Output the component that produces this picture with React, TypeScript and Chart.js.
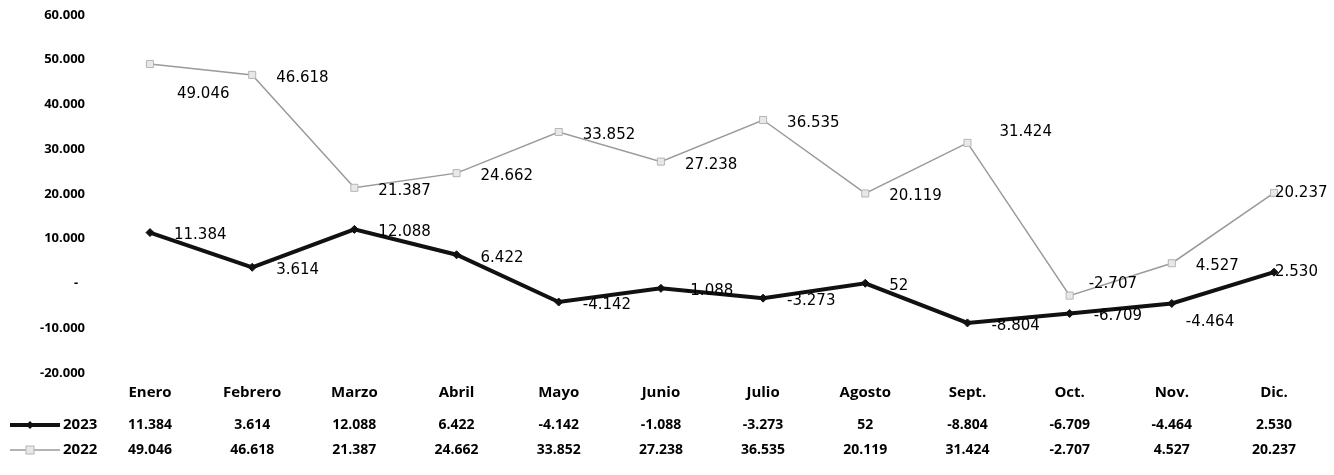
import React, { useEffect, useRef } from 'react';
import { Chart, registerables } from 'chart.js';

Chart.register(...registerables);

const months = ['Enero', 'Febrero', 'Marzo', 'Abril', 'Mayo', 'Junio', 'Julio', 'Agosto', 'Sept.', 'Oct.', 'Nov.', 'Dic.'];
const seriesNames = ['2023', '2022'];
const values2023 = [11384, 3614, 12088, 6422, -4142, -1088, -3273, 52, -8804, -6709, -4464, 2530];
const values2022 = [49046, 46618, 21387, 24662, 33852, 27238, 36535, 20119, 31424, -2707, 4527, 20237];
const yMin = -20000;
const yMax = 60000;
const yStep = 10000;

function fmt(v: number): string {
  if (v === 0) return '-  ';
  const s = Math.abs(v).toString().replace(/\B(?=(\d{3})+(?!\d))/g, '.');
  return (v < 0 ? '-' : '') + s;
}

// label offsets (styling only): "dataset-point" -> [dx, dy]
const labelOffsetOverrides: Record<string, [number, number]> = {
  '1-0': [27, 30],
  '1-8': [32, -11],
  '1-9': [19, -12],
  '1-11': [1, 0],
  '0-10': [14, 19],
  '0-11': [1, 0],
};

const lineColors = ['#111111', '#9a9a9a'];

const labelsPlugin = {
  id: 'pointLabels',
  afterDatasetsDraw(chart: any) {
    const ctx = chart.ctx;
    ctx.save();
    ctx.font = '15px "DejaVu Sans"';
    ctx.fillStyle = '#000';
    ctx.textAlign = 'left';
    ctx.textBaseline = 'middle';
    chart.data.datasets.forEach((ds: any, di: number) => {
      const meta = chart.getDatasetMeta(di);
      meta.data.forEach((pt: any, i: number) => {
        const off = labelOffsetOverrides[`${di}-${i}`] || [24, 3];
        ctx.fillText(fmt(ds.data[i]), pt.x + off[0], pt.y + off[1]);
      });
    });
    ctx.restore();
  },
};

const tablePlugin = {
  id: 'dataTable',
  afterDraw(chart: any) {
    const ctx = chart.ctx;
    const xs = chart.scales.x;
    const rowY = [425, 450];
    ctx.save();
    ctx.fillStyle = '#000';
    ctx.textBaseline = 'middle';
    ctx.textAlign = 'center';
    ctx.font = 'bold 15px "Open Sans"';
    months.forEach((m, i) => {
      ctx.fillText(m, xs.getPixelForValue(i), 393);
    });
    ctx.font = 'bold 14px "Open Sans"';
    [values2023, values2022].forEach((vals, r) => {
      vals.forEach((v, i) => {
        ctx.fillText(fmt(v), xs.getPixelForValue(i), rowY[r]);
      });
    });
    // legend keys
    ctx.strokeStyle = lineColors[0];
    ctx.lineWidth = 4;
    ctx.beginPath();
    ctx.moveTo(10, rowY[0]);
    ctx.lineTo(60, rowY[0]);
    ctx.stroke();
    ctx.fillStyle = lineColors[0];
    ctx.beginPath();
    ctx.moveTo(30, rowY[0] - 4);
    ctx.lineTo(34, rowY[0]);
    ctx.lineTo(30, rowY[0] + 4);
    ctx.lineTo(26, rowY[0]);
    ctx.closePath();
    ctx.fill();
    ctx.strokeStyle = lineColors[1];
    ctx.lineWidth = 1.5;
    ctx.beginPath();
    ctx.moveTo(10, rowY[1]);
    ctx.lineTo(60, rowY[1]);
    ctx.stroke();
    ctx.fillStyle = '#e8e8e8';
    ctx.strokeStyle = '#b5b5b5';
    ctx.lineWidth = 1;
    ctx.fillRect(26, rowY[1] - 4, 8, 8);
    ctx.strokeRect(26, rowY[1] - 4, 8, 8);
    ctx.fillStyle = '#000';
    ctx.textAlign = 'left';
    ctx.font = 'bold 15px "Open Sans"';
    seriesNames.forEach((n, r) => ctx.fillText(n, 63, rowY[r]));
    ctx.restore();
  },
};

export default function App() {
  const ref = useRef<HTMLCanvasElement>(null);
  useEffect(() => {
    document.body.style.margin = '0';
    document.body.style.background = '#fff';
    const chart = new Chart(ref.current as HTMLCanvasElement, {
      type: 'line',
      data: {
        labels: months,
        datasets: [
          {
            label: seriesNames[0],
            data: values2023,
            borderColor: lineColors[0],
            backgroundColor: lineColors[0],
            borderWidth: 4,
            pointStyle: 'rectRot',
            pointRadius: 4,
            pointBorderWidth: 1,
            tension: 0,
          },
          {
            label: seriesNames[1],
            data: values2022,
            borderColor: lineColors[1],
            backgroundColor: '#e8e8e8',
            borderWidth: 1.5,
            pointStyle: 'rect',
            pointRadius: 5,
            pointBorderColor: '#b5b5b5',
            pointBorderWidth: 1,
            tension: 0,
          },
        ],
      },
      options: {
        responsive: false,
        animation: false,
        layout: { padding: { left: 0, right: 60, top: 15, bottom: 102 } },
        plugins: { legend: { display: false }, tooltip: { enabled: false } },
        scales: {
          x: { type: 'category', display: false, offset: false },
          y: {
            min: yMin,
            max: yMax,
            grid: { display: false, drawTicks: true, tickLength: 60 },
            border: { display: false },
            afterFit: (s: any) => { s.width = 150; },
            ticks: {
              stepSize: yStep,
              padding: 5,
              color: '#000',
              font: { family: '"Open Sans"', size: 13, weight: 'bold' },
              callback: (v: any) => fmt(Number(v)),
            },
          },
        },
      },
      plugins: [labelsPlugin, tablePlugin],
    } as any);
    return () => chart.destroy();
  }, []);
  return <canvas ref={ref} width={1334} height={475} style={{ display: 'block' }} />;
}
